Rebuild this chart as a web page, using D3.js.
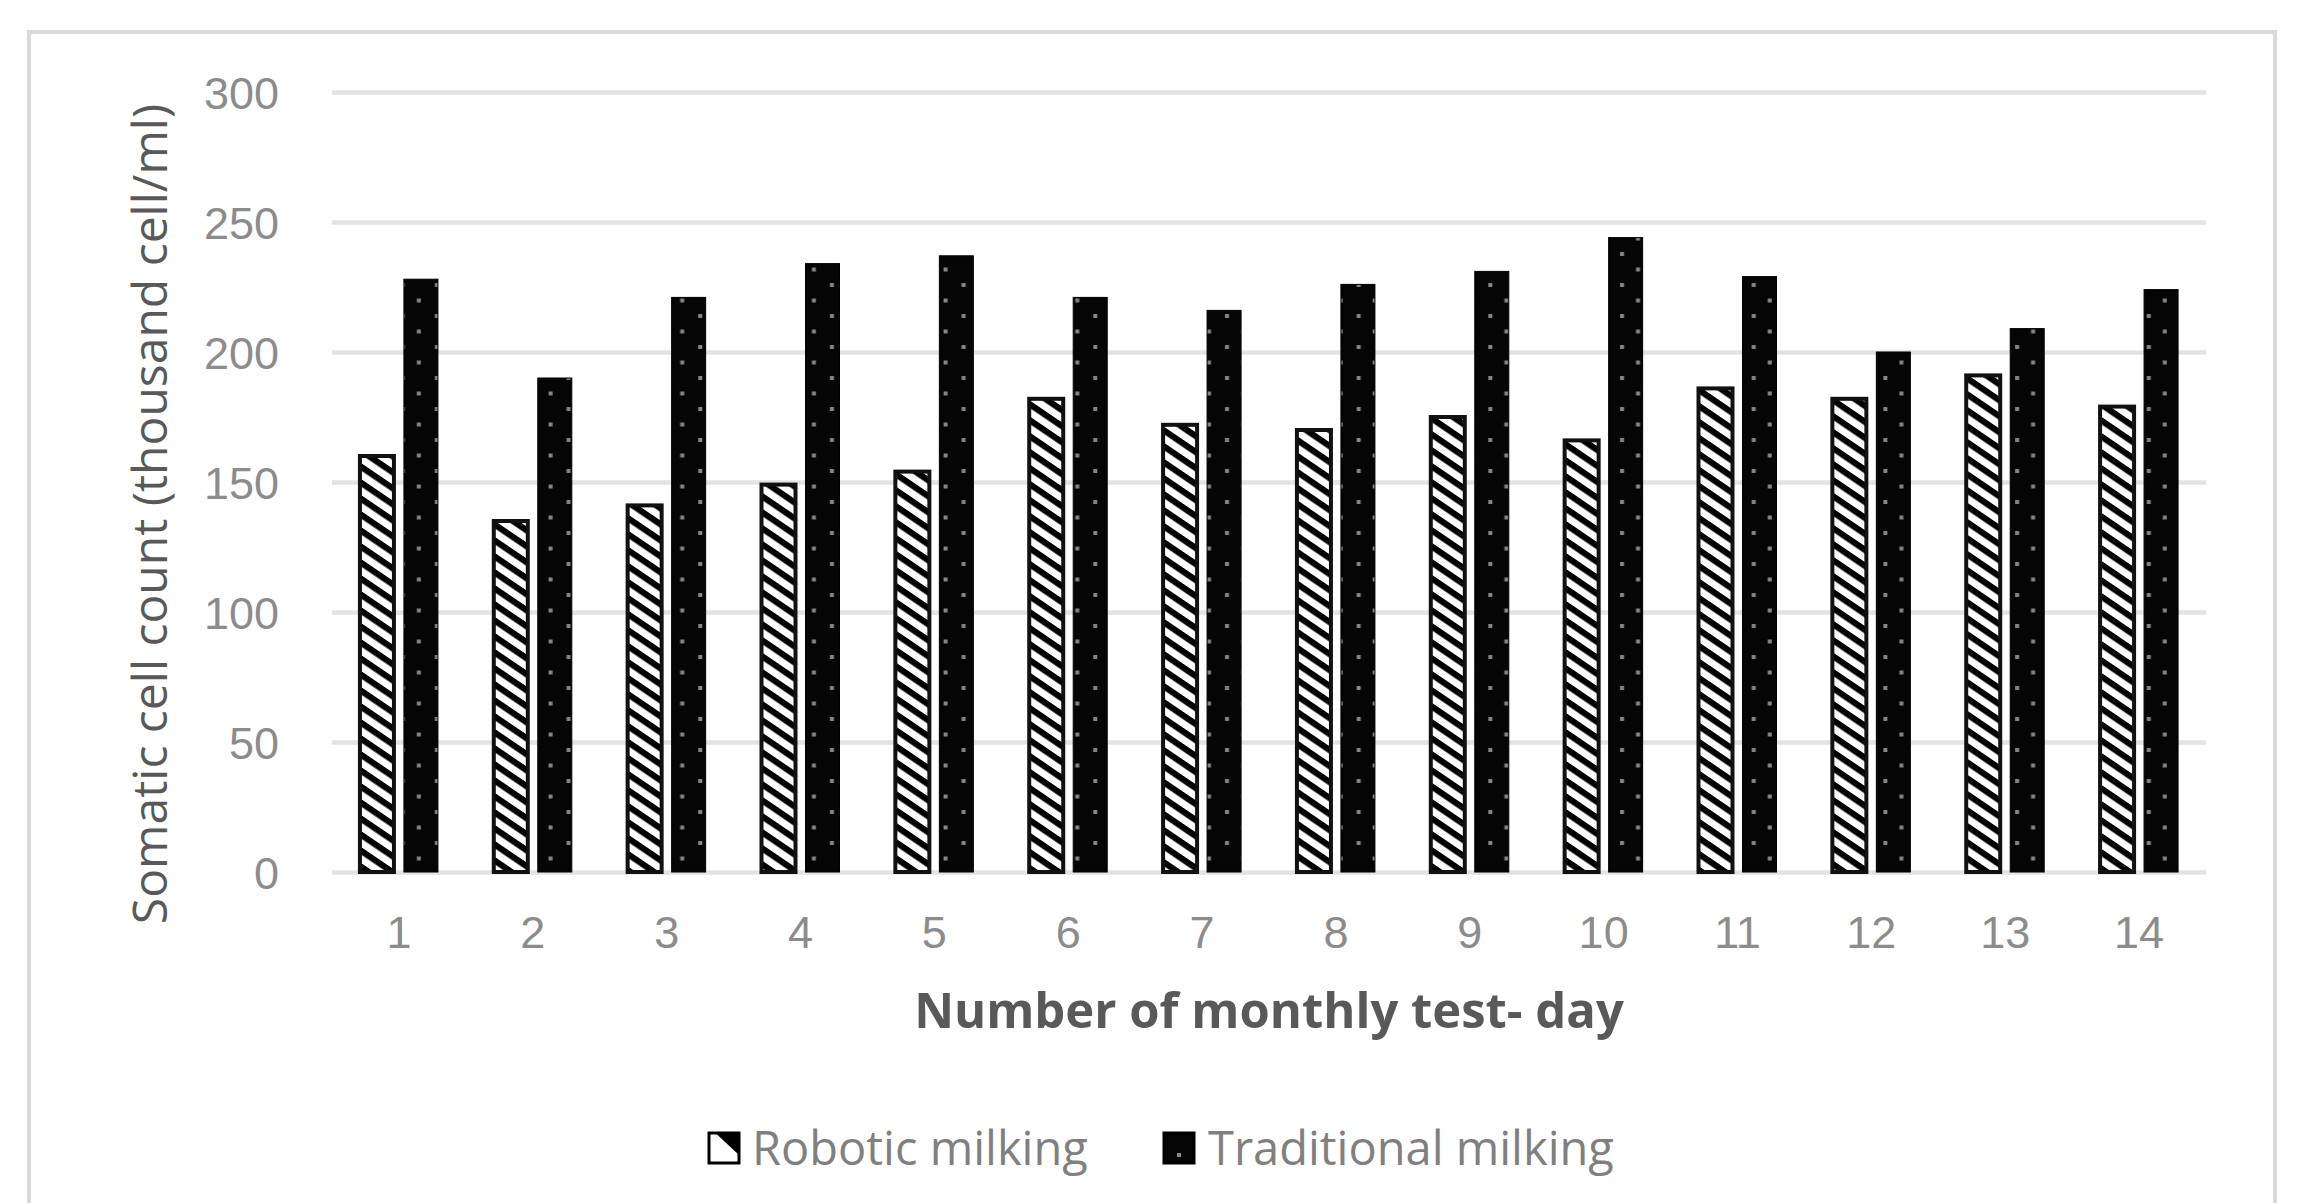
<!DOCTYPE html>
<html>
<head>
<meta charset="utf-8">
<script src="https://cdn.jsdelivr.net/npm/d3@7/dist/d3.min.js"></script>
<style>
  html, body { margin: 0; padding: 0; background: #ffffff; }
  svg { display: block; font-family: "Open Sans", "Noto Sans", sans-serif; }
</style>
</head>
<body>
<svg id="chart" width="2302" height="1203"></svg>
<script>
// ---- data ----
const categories = ["1","2","3","4","5","6","7","8","9","10","11","12","13","14"];
const seriesNames = ["Robotic milking", "Traditional milking"];
const robotic = [160, 135, 141, 149, 154, 182, 172, 170, 175, 166, 186, 182, 191, 179];
const traditional = [228, 190, 221, 234, 237, 221, 216, 226, 231, 244, 229, 200, 209, 224];
const yTicks = [0, 50, 100, 150, 200, 250, 300];
const yTitle = "Somatic cell count (thousand cell/ml)";
const xTitle = "Number of monthly test- day";

// ---- layout ----
const plot = { left: 332, right: 2206, top: 92, bottom: 872 };
const svg = d3.select("#chart");

const x0 = d3.scaleBand().domain(categories).range([plot.left, plot.right]).padding(0);
const groupW = 78;
const x1 = d3.scaleBand().domain(seriesNames)
  .range([(x0.bandwidth() - groupW) / 2, (x0.bandwidth() + groupW) / 2])
  .paddingInner(0.227).paddingOuter(0);
const y = d3.scaleLinear().domain([0, 300]).range([plot.bottom, plot.top]);

// outer frame
svg.append("rect")
  .attr("x", 29).attr("y", 32).attr("width", 2246).attr("height", 1240)
  .attr("fill", "none").attr("stroke", "#d9d9d9").attr("stroke-width", 4);

const defs = svg.append("defs");

const rows = categories.map((c, i) => ({ cat: c, vals: [
  { s: seriesNames[0], v: robotic[i] },
  { s: seriesNames[1], v: traditional[i] }
]}));

const bw = x1.bandwidth();
const slopeDeg = Math.atan(0.68) * 180 / Math.PI;
rows.forEach((r, i) => {
  r.vals.forEach((d, j) => {
    const bx = x0(r.cat) + x1(d.s);
    const id = "p" + i + "_" + j;
    d.id = id;
    if (j === 0) {
      const p = defs.append("pattern").attr("id", id)
        .attr("patternUnits", "userSpaceOnUse")
        .attr("x", 0).attr("y", 0).attr("width", 12).attr("height", 16)
        .attr("patternTransform", `translate(${bx},${i * 5}) skewY(${slopeDeg})`);
      p.append("rect").attr("width", 12).attr("height", 16).attr("fill", "#ffffff");
      p.append("rect").attr("y", 0).attr("width", 12).attr("height", 7.5).attr("fill", "#000");
    } else {
      const p = defs.append("pattern").attr("id", id)
        .attr("patternUnits", "userSpaceOnUse")
        .attr("x", bx).attr("y", 0).attr("width", bw).attr("height", 31);
      p.append("rect").attr("width", bw).attr("height", 31).attr("fill", "#050505");
      p.append("rect").attr("x", 5).attr("y", 4).attr("width", 4).attr("height", 4).attr("fill", "#858585");
      p.append("rect").attr("x", 21).attr("y", 19.5).attr("width", 4).attr("height", 4).attr("fill", "#858585");
    }
  });
});

// legend pattern
const legRob = defs.append("pattern").attr("id", "legRob")
  .attr("patternUnits", "userSpaceOnUse").attr("x", 709).attr("y", 1133).attr("width", 30).attr("height", 30);
legRob.append("rect").attr("width", 30).attr("height", 30).attr("fill", "#fff");
legRob.append("path").attr("d", "M0,-6 L30,22 L30,-6 Z").attr("fill", "#000");

// y axis with gridlines
const yAxis = d3.axisLeft(y).tickValues(yTicks).tickSize(-(plot.right - plot.left)).tickPadding(53);
const gy = svg.append("g").attr("transform", `translate(${plot.left},0)`).call(yAxis);
gy.select(".domain").remove();
gy.selectAll(".tick line").attr("stroke", "#e3e3e3").attr("stroke-width", 4.5);
gy.selectAll(".tick text").attr("fill", "#8c8c8c").attr("font-size", 45).attr("dy", "0.36em");

// bars
const groups = svg.append("g").selectAll("g").data(rows).join("g")
  .attr("transform", d => `translate(${x0(d.cat)},0)`);
groups.selectAll("rect").data(d => d.vals).join("rect")
  .attr("x", d => x1(d.s))
  .attr("y", d => y(d.v))
  .attr("width", bw)
  .attr("height", d => y(0) - y(d.v))
  .attr("fill", d => `url(#${d.id})`)
  .attr("stroke", (d, j) => j === 0 ? "#111" : "#000")
  .attr("stroke-width", (d, j) => j === 0 ? 4 : 1);

// x axis labels
const xAxis = d3.axisBottom(x0).tickSize(0).tickPadding(0);
const gx = svg.append("g").attr("transform", `translate(0,${plot.bottom})`).call(xAxis);
gx.select(".domain").remove();
gx.selectAll(".tick text").attr("fill", "#8c8c8c").attr("font-size", 45)
  .attr("y", 60).attr("dy", "0.36em");

// axis titles
svg.append("text")
  .attr("transform", `translate(150,514) rotate(-90)`)
  .attr("text-anchor", "middle").attr("dy", "0.36em")
  .attr("font-size", 48).attr("fill", "#595959")
  .text(yTitle);

svg.append("text")
  .attr("x", (plot.left + plot.right) / 2).attr("y", 1010)
  .attr("text-anchor", "middle").attr("dy", "0.36em")
  .attr("font-size", 49).attr("font-weight", "bold").attr("fill", "#595959")
  .text(xTitle);

// legend
const legend = [
  { name: seriesNames[0], sx: 709, tx: 752, fill: "url(#legRob)" },
  { name: seriesNames[1], sx: 1164, tx: 1208, fill: "#050505" }
];
const lg = svg.append("g").selectAll("g").data(legend).join("g");
lg.append("rect")
  .attr("x", d => d.sx).attr("y", 1133).attr("width", 30).attr("height", 30)
  .attr("fill", d => d.fill).attr("stroke", "#000").attr("stroke-width", 3);
lg.filter((d, i) => i === 1).append("rect")
  .attr("x", d => d.sx + 13).attr("y", 1153).attr("width", 4).attr("height", 4).attr("fill", "#8a8a8a");
lg.append("text")
  .attr("x", d => d.tx).attr("y", 1148).attr("dy", "0.36em")
  .attr("font-size", 47).attr("fill", "#808080")
  .text(d => d.name);
</script>
</body>
</html>
